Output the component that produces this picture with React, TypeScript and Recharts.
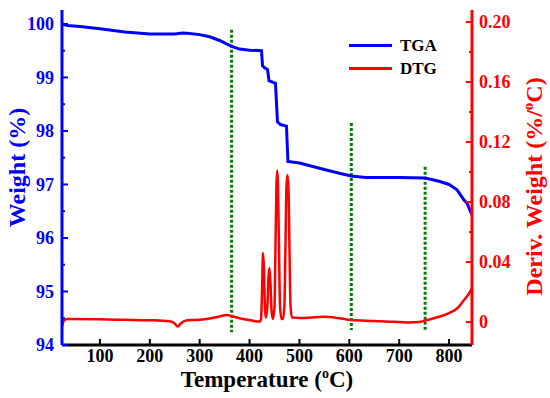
import React from 'react'
import { LineChart, Line, XAxis, YAxis, ReferenceLine } from 'recharts'

// TGA curve: temperature (°C) vs weight (%)
const tgaTemp = [24, 35, 60, 100, 150, 200, 250, 266, 280, 300, 320, 340, 364, 380, 400, 424, 426, 430, 436, 439, 452, 456, 462, 474, 477, 500, 550, 580, 604, 633, 700, 752, 780, 800, 816, 830, 836, 846]
const tgaWeight = [100.0, 99.97, 99.95, 99.91, 99.85, 99.81, 99.81, 99.83, 99.82, 99.8, 99.76, 99.69, 99.58, 99.53, 99.51, 99.5, 99.22, 99.18, 99.15, 98.94, 98.89, 98.17, 98.12, 98.09, 97.43, 97.4, 97.28, 97.21, 97.16, 97.13, 97.13, 97.12, 97.06, 97.0, 96.9, 96.71, 96.65, 96.43]

// DTG curve: temperature (°C) vs derivative weight (%/°C)
const dtgTemp = [24, 28, 35, 100, 150, 200, 240, 250, 256, 262, 275, 300, 330, 356, 364, 380, 400, 420, 423, 425, 427, 429, 431, 433, 436, 438, 440, 442, 444, 447, 450, 452, 454, 455.5, 457, 459, 461, 464, 467, 470, 472, 474, 476, 478, 480, 482, 485, 500, 550, 580, 604, 650, 680, 700, 720, 740, 752, 780, 800, 816, 830, 838, 846]
const dtgValue = [-0.0027, 0.001, 0.002, 0.0018, 0.0015, 0.0012, 0.0005, -0.001, -0.003, -0.001, 0.0012, 0.0015, 0.003, 0.0047, 0.004, 0.0025, 0.0013, 0.0003, 0.002, 0.02, 0.046, 0.035, 0.008, 0.003, 0.012, 0.03, 0.036, 0.026, 0.008, 0.002, 0.01, 0.05, 0.092, 0.101, 0.092, 0.05, 0.012, 0.002, 0.002, 0.012, 0.05, 0.09, 0.098, 0.09, 0.05, 0.012, 0.003, 0.0027, 0.0035, 0.0025, 0.0013, 0.0007, 0.0002, 0, -0.0003, 0, 0.001, 0.0035, 0.006, 0.009, 0.0147, 0.018, 0.0227]

// green dotted markers: temperature, top and bottom weight
const markTemp = [364, 604, 752]
const markTop = [99.89, 98.15, 97.33]
const markBottom = [94.24, 94.28, 94.28]

const xTicks = [50, 100, 150, 200, 250, 300, 350, 400, 450, 500, 550, 600, 650, 700, 750, 800]
const leftTicks = [94, 94.5, 95, 95.5, 96, 96.5, 97, 97.5, 98, 98.5, 99, 99.5, 100]
const rightTicks = [0, 0.02, 0.04, 0.06, 0.08, 0.1, 0.12, 0.14, 0.16, 0.18, 0.2]

const series = [
  { name: 'TGA', color: '#0000ff' },
  { name: 'DTG', color: '#ff0000' },
]

const FONT = '"Liberation Serif", "Times New Roman", serif'

const tgaData = tgaTemp.map((t, i) => ({ t, w: tgaWeight[i] }))
const dtgData = dtgTemp.map((t, i) => ({ t, d: dtgValue[i] }))

const BottomTick = ({ x, y, payload }: any) => {
  const major = payload.value % 100 === 0
  return (
    <g>
      <line x1={x} x2={x} y1={y} y2={y - (major ? 6 : 3)} stroke="#000" strokeWidth={2} />
      {major && (
        <text x={x} y={y + 17} textAnchor="middle" fill="#000" fontFamily={FONT} fontWeight={700} fontSize={18}>
          {payload.value}
        </text>
      )}
    </g>
  )
}

const LeftTick = ({ x, y, payload }: any) => {
  const major = Number.isInteger(payload.value)
  return (
    <g>
      <line x1={x} x2={x + (major ? 6 : 3)} y1={y} y2={y} stroke="#0000ff" strokeWidth={2} />
      {major && (
        <text x={x - 8} y={y} dy="0.35em" textAnchor="end" fill="#0000ff" fontFamily={FONT} fontWeight={700} fontSize={18}>
          {payload.value}
        </text>
      )}
    </g>
  )
}

const RightTick = ({ x, y, payload, index }: any) => {
  const major = index % 2 === 0
  const v = payload.value
  return (
    <g>
      <line x1={x} x2={x - (major ? 6 : 3)} y1={y} y2={y} stroke="#ff0000" strokeWidth={2} />
      {major && (
        <text x={x + 7} y={y} dy="0.35em" textAnchor="start" fill="#ff0000" fontFamily={FONT} fontWeight={700} fontSize={18}>
          {v === 0 ? '0' : v.toFixed(2)}
        </text>
      )}
    </g>
  )
}

export default function App() {
  return (
    <div style={{ position: 'absolute', left: 0, top: 0, width: 550, height: 398, background: '#fff' }}>
      <LineChart width={550} height={398} margin={{ top: 10, right: 0, bottom: 0, left: 0 }}>
        <XAxis
          dataKey="t"
          type="number"
          domain={[24, 846]}
          ticks={xTicks}
          allowDataOverflow
          height={53}
          tickSize={0}
          tickMargin={0}
          tickLine={false}
          tick={<BottomTick />}
          axisLine={{ stroke: '#000', strokeWidth: 3 }}
          label={(p: any) => {
            const { x, y, width } = p.viewBox
            return (
              <text x={x + width / 2} y={y + 42} textAnchor="middle" fill="#000" fontFamily={FONT} fontWeight={700} fontSize={23}>
                Temperature (<tspan dy={-9} fontSize={14}>o</tspan><tspan dy={9}>C)</tspan>
              </text>
            )
          }}
        />
        <XAxis
          xAxisId="top"
          orientation="top"
          type="number"
          domain={[24, 846]}
          height={0}
          tick={false}
          tickLine={false}
          axisLine={{ stroke: '#000', strokeWidth: 3 }}
        />
        <YAxis
          yAxisId="left"
          type="number"
          domain={[94, 100.26]}
          ticks={leftTicks}
          allowDataOverflow
          width={62}
          tickSize={0}
          tickMargin={0}
          tickLine={false}
          tick={<LeftTick />}
          axisLine={{ stroke: '#0000ff', strokeWidth: 3 }}
          label={(p: any) => {
            const { x, y, height } = p.viewBox
            const cx = x + 25
            const cy = y + height / 2 - 10
            return (
              <text x={cx} y={cy} transform={`rotate(-90 ${cx} ${cy})`} textAnchor="middle" fill="#0000ff" fontFamily={FONT} fontWeight={700} fontSize={24}>
                Weight (%)
              </text>
            )
          }}
        />
        <YAxis
          yAxisId="right"
          orientation="right"
          type="number"
          domain={[-0.0153, 0.208]}
          ticks={rightTicks}
          allowDataOverflow
          width={78}
          tickSize={0}
          tickMargin={0}
          tickLine={false}
          tick={<RightTick />}
          axisLine={{ stroke: '#ff0000', strokeWidth: 3 }}
          label={(p: any) => {
            const { x, y, height } = p.viewBox
            const cx = x + 70
            const cy = y + height / 2 + 9
            return (
              <text x={cx} y={cy} transform={`rotate(-90 ${cx} ${cy})`} textAnchor="middle" fill="#ff0000" fontFamily={FONT} fontWeight={700} fontSize={24}>
                Deriv. Weight (%/<tspan dy={-9} fontSize={15}>o</tspan><tspan dy={9}>C)</tspan>
              </text>
            )
          }}
        />
        {markTemp.map((t, i) => (
          <ReferenceLine
            key={`mark-${i}`}
            yAxisId="left"
            segment={[{ x: t, y: markTop[i] }, { x: t, y: markBottom[i] }]}
            stroke="#008000"
            strokeWidth={3}
            strokeDasharray="3 2"
          />
        ))}
        <Line
          yAxisId="left"
          data={tgaData}
          dataKey="w"
          type="linear"
          stroke={series[0].color}
          strokeWidth={3}
          dot={false}
          isAnimationActive={false}
        />
        <Line
          yAxisId="right"
          data={dtgData}
          dataKey="d"
          type="monotone"
          stroke={series[1].color}
          strokeWidth={2.5}
          dot={false}
          isAnimationActive={false}
        />
      </LineChart>
      <div style={{ position: 'absolute', left: 349, top: 34, fontFamily: FONT, fontWeight: 700, fontSize: 17, color: '#000' }}>
        {series.map((s) => (
          <div key={s.name} style={{ display: 'flex', alignItems: 'center', height: 23 }}>
            <div style={{ width: 43, height: 3, background: s.color, marginRight: 8 }} />
            <span>{s.name}</span>
          </div>
        ))}
      </div>
    </div>
  )
}
